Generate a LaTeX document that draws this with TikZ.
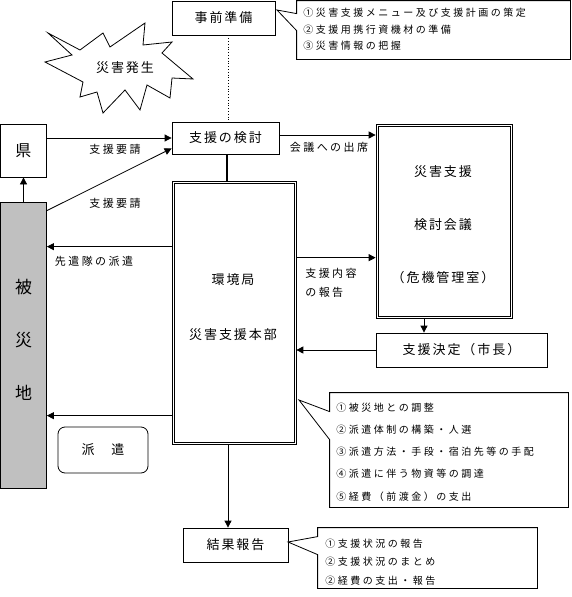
\documentclass[tikz,border=0pt]{standalone}
\usepackage{fontspec}
\newfontfamily\jp{Noto Sans CJK JP}
\newfontfamily\jpA[LetterSpace=15]{Noto Sans CJK JP}
\newfontfamily\jpB[LetterSpace=22]{Noto Sans CJK JP}
\newfontfamily\jpC[LetterSpace=25]{Noto Sans CJK JP}
\usetikzlibrary{arrows.meta,calc}
\definecolor{grayfill}{HTML}{C0C0C0}
\begin{document}
\begin{tikzpicture}[x=1pt,y=-1pt,line width=0.8pt,
  box/.style={draw,rectangle,inner sep=0pt,font=\jpA\fontsize{13}{15}\selectfont},
  dbox/.style={draw,rectangle,line width=0.7pt,inner sep=0pt},
  btext/.style={inner sep=0pt,align=center},
  lbl/.style={inner sep=0pt,font=\jpB\fontsize{11}{13}\selectfont},
  ctext/.style={inner sep=0pt,anchor=west,align=left},
  cbox/.style={inner sep=0pt,draw=none},
  arr/.style={-{Triangle[length=7pt,width=7pt]}}
]
\useasboundingbox (0,0) rectangle (571,597);

% boxes
\node[box,minimum width=103pt,minimum height=34pt] (jizen) at (223.5,18) {事前準備};
\node[box,minimum width=107pt,minimum height=32pt] (kento) at (225.5,138) {支援の検討};
\node[box,minimum width=46pt,minimum height=53pt,font=\jp\fontsize{16}{18}\selectfont] (ken) at (23.5,150.5) {県};
\node[draw,fill=grayfill,minimum width=46pt,minimum height=286pt,inner sep=0pt] (hisai) at (23.5,345) {};
\node[btext,font=\jp\fontsize{17}{53}\selectfont] (hisaiT) at (23.5,340) {被\\災\\地};

\node[dbox,minimum width=124pt,minimum height=263pt] (honbu) at (234,312.5) {};
\draw[line width=0.7pt] ([shift={(2.2,2.2)}]honbu.north west) rectangle ([shift={(-2.2,-2.2)}]honbu.south east);
\node[btext,font=\jpA\fontsize{13}{55}\selectfont] (honbuT) at (233,307.5) {環境局\\災害支援本部};

\node[dbox,minimum width=136pt,minimum height=194pt] (kaigi) at (444,221) {};
\draw[line width=0.7pt] ([shift={(2.2,2.2)}]kaigi.north west) rectangle ([shift={(-2.2,-2.2)}]kaigi.south east);
\node[btext,font=\jpA\fontsize{13}{53}\selectfont] (kaigiT) at (443,225) {災害支援\\検討会議\\（危機管理室）};

\node[box,minimum width=171pt,minimum height=34pt] (kettei) at (461.5,350) {支援決定（市長）};
\node[draw,rounded corners=7pt,minimum width=90pt,minimum height=46pt,inner sep=0pt,font=\jpA\fontsize{13}{15}\selectfont] (haken) at (103,450) {派　遣};
\node[box,minimum width=105pt,minimum height=34pt] (kekka) at (235.5,545) {結果報告};

% star
\draw (48,33) -- (80,50) -- (103,33) -- (110,47) -- (145,23) -- (143,45) -- (172,42) -- (162,53)
  -- (193,79) -- (172,78) -- (170,98) -- (147,85) -- (140,110) -- (125,90) -- (103,113) -- (97,92)
  -- (80,97) -- (83,82) -- (45,62) -- (72,55) -- cycle;
\node[inner sep=0pt,font=\jpA\fontsize{13}{15}\selectfont] (hassei) at (125,68) {災害発生};

% connectors
\draw[arr] (ken.east |- kento.west) -- (kento.west);
\draw[arr] ([yshift=-9pt]hisai.north east) -- ([yshift=6pt]kento.south west);
\draw[arr] (hisai.north) -- (ken.south);
\draw[dotted] (jizen.south) ++(4.5,0) coordinate (dtop) -- (dtop |- kento.north);
\draw[line width=1.6pt] (kento.south) ++(1.5,0) coordinate (ktop) -- (ktop |- honbu.north);
\draw[arr] ([yshift=3pt]kento.east) -- ([yshift=3pt]kento.east -| kaigi.west);
\coordinate (hb1) at ($(honbu.north east)+(0,77)$);
\draw[arr] (hb1) -- (hb1 -| kaigi.west);
\coordinate (kg1) at ($(kaigi.south)+(-20,0)$);
\draw[arr] (kg1) -- (kg1 |- kettei.north);
\draw[arr] (kettei.west) -- (kettei.west -| honbu.east);
\coordinate (hw1) at ($(honbu.north west)+(0,66)$);
\draw[arr] (hw1) -- (hw1 -| hisai.east);
\coordinate (hw2) at ($(honbu.north west)+(0,235)$);
\draw[arr] (hw2) -- (hw2 -| hisai.east);
\coordinate (hs1) at ($(honbu.south)+(-6,0)$);
\draw[arr] (hs1) -- (hs1 |- kekka.north);

% labels
\node[lbl] (l1) at (115,149) {支援要請};
\node[lbl] (l2) at (115,203) {支援要請};
\node[lbl] (l3) at (329,147) {会議への出席};
\node[lbl,anchor=west,align=left,font=\jpB\fontsize{11}{19}\selectfont] (l4) at (305,282.5) {支援内容\\の報告};
\node[lbl] (l5) at (94,261) {先遣隊の派遣};

% callout 1
\node[cbox,minimum width=273pt,minimum height=58pt] (c1) at (433.5,30) {};
\coordinate (c1tip) at (277,10);
\draw[fill=white] (c1.north west) -- (c1.north east) -- (c1.south east) -- (c1.south west)
  -- ($(c1.north west)+(0,30)$) -- (c1tip) -- ($(c1.north west)+(0,13)$) -- cycle;
\node[ctext,font=\jpC\fontsize{10}{16.5}\selectfont] (c1t) at (303,29.5)
  {①災害支援メニュー及び支援計画の策定\\②支援用携行資機材の準備\\③災害情報の把握};

% callout 2
\node[cbox,minimum width=238pt,minimum height=114pt] (c2) at (449,450) {};
\coordinate (c2tip) at (299,400);
\draw[fill=white] (c2.north west) -- (c2.north east) -- (c2.south east) -- (c2.south west)
  -- ($(c2.north west)+(0,47)$) -- (c2tip) -- ($(c2.north west)+(0,19)$) -- cycle;
\node[ctext,font=\jpC\fontsize{10}{22.2}\selectfont] (c2t) at (336,452)
  {①被災地との調整\\②派遣体制の構築・人選\\③派遣方法・手段・宿泊先等の手配\\④派遣に伴う物資等の調達\\⑤経費（前渡金）の支出};

% callout 3
\node[cbox,minimum width=219pt,minimum height=60pt] (c3) at (427.5,558) {};
\coordinate (c3tip) at (288,542);
\draw[fill=white] (c3.north west) -- (c3.north east) -- (c3.south east) -- (c3.south west)
  -- ($(c3.north west)+(0,27)$) -- (c3tip) -- ($(c3.north west)+(0,9)$) -- cycle;
\node[ctext,font=\jpC\fontsize{10}{18.5}\selectfont] (c3t) at (325,562)
  {①支援状況の報告\\②支援状況のまとめ\\②経費の支出・報告};
\end{tikzpicture}
\end{document}
